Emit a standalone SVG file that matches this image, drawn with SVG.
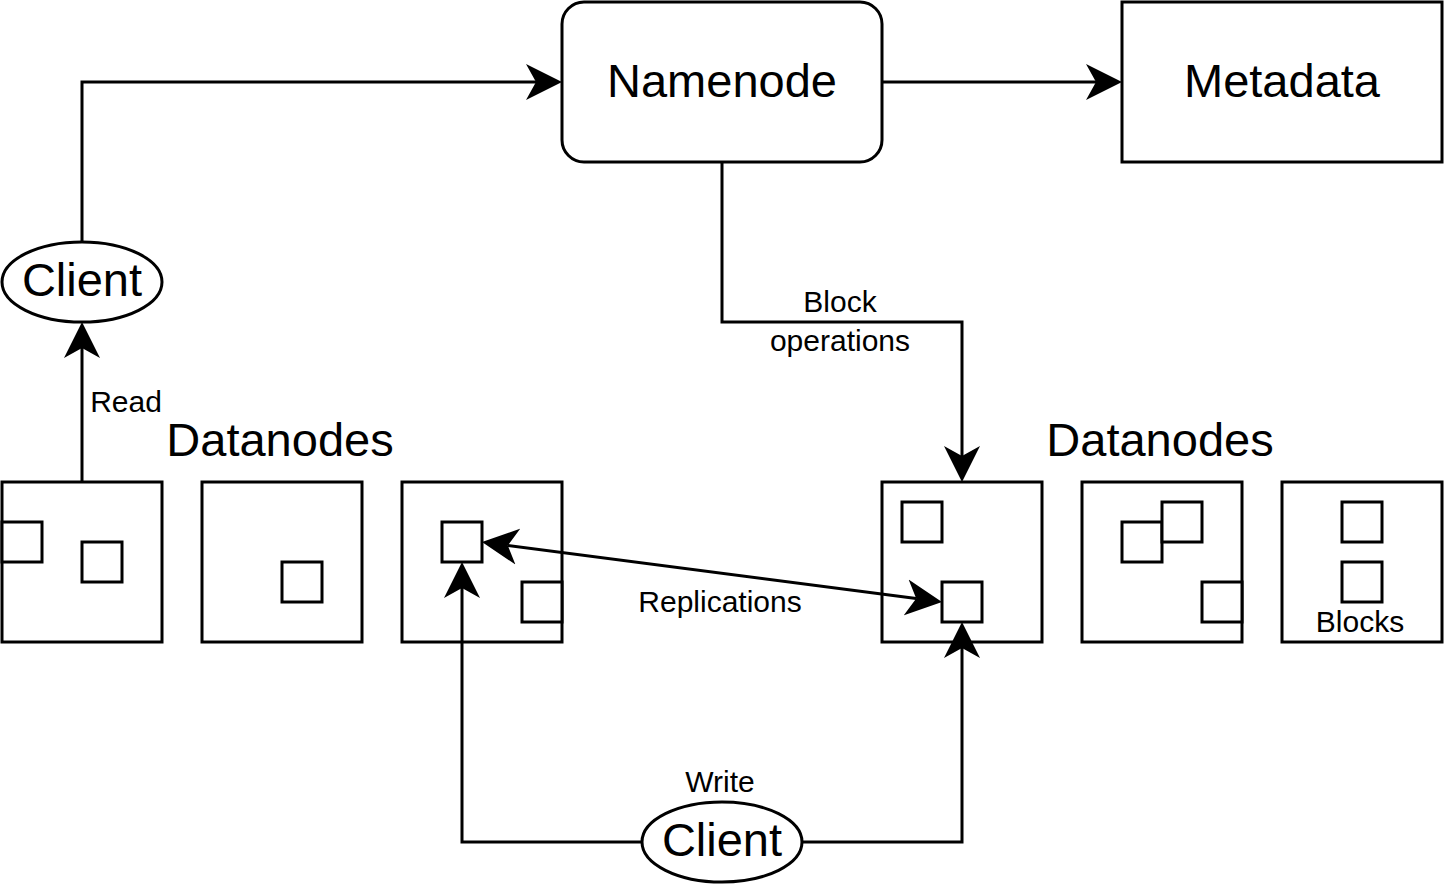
<svg xmlns="http://www.w3.org/2000/svg" width="1444" height="888" viewBox="0 0 1444 888">
<style>
.box{fill:#fff;stroke:#000;stroke-width:3}
.blk{fill:#fff;stroke:#000;stroke-width:3}
.ln{fill:none;stroke:#000;stroke-width:3}
.big{font-family:"Liberation Sans",Arial,sans-serif;font-size:47px;fill:#000;text-anchor:middle}
.lbl{font-family:"Liberation Sans",Arial,sans-serif;font-size:30px;fill:#000;text-anchor:middle}
</style>
<defs>
<marker id="arr" markerUnits="userSpaceOnUse" markerWidth="40" markerHeight="40" viewBox="-10 -20 40 40" refX="0" refY="0" orient="auto-start-reverse">
<path d="M26,0 L-10,-18 L0,0 L-10,18 Z" fill="#000"/>
</marker>
</defs>
<rect width="1444" height="888" fill="#fff"/>
<g id="namenode">
<rect class="box" x="562" y="2" width="320" height="160" rx="22" ry="22"/>
<text class="big" x="722" y="97">Namenode</text>
</g>
<g id="metadata">
<rect class="box" x="1122" y="2" width="320" height="160"/>
<text class="big" x="1282" y="97">Metadata</text>
</g>
<g id="client-read">
<ellipse class="box" cx="82" cy="282" rx="80" ry="40"/>
<text class="big" x="82" y="296">Client</text>
</g>
<g id="client-write">
<ellipse class="box" cx="722" cy="842" rx="80" ry="40"/>
<text class="big" x="722" y="856">Client</text>
</g>
<g id="datanodes-left-label">
<text class="big" x="280" y="456">Datanodes</text>
</g>
<g id="datanodes-right-label">
<text class="big" x="1160" y="456">Datanodes</text>
</g>
<g id="datanode1">
<rect class="box" x="2" y="482" width="160" height="160"/>
<rect class="blk" x="2" y="522" width="40" height="40"/>
<rect class="blk" x="82" y="542" width="40" height="40"/>
</g>
<g id="datanode2">
<rect class="box" x="202" y="482" width="160" height="160"/>
<rect class="blk" x="282" y="562" width="40" height="40"/>
</g>
<g id="datanode3">
<rect class="box" x="402" y="482" width="160" height="160"/>
<rect class="blk" x="442" y="522" width="40" height="40"/>
<rect class="blk" x="522" y="582" width="40" height="40"/>
</g>
<g id="datanode4">
<rect class="box" x="882" y="482" width="160" height="160"/>
<rect class="blk" x="902" y="502" width="40" height="40"/>
<rect class="blk" x="942" y="582" width="40" height="40"/>
</g>
<g id="datanode5">
<rect class="box" x="1082" y="482" width="160" height="160"/>
<rect class="blk" x="1122" y="522" width="40" height="40"/>
<rect class="blk" x="1162" y="502" width="40" height="40"/>
<rect class="blk" x="1202" y="582" width="40" height="40"/>
</g>
<g id="datanode6">
<rect class="box" x="1282" y="482" width="160" height="160"/>
<rect class="blk" x="1342" y="502" width="40" height="40"/>
<rect class="blk" x="1342" y="562" width="40" height="40"/>
<text class="lbl" x="1360" y="632">Blocks</text>
</g>
<g id="connectors">
<path class="ln" d="M82,242 V82 H536" marker-end="url(#arr)"/>
<path class="ln" d="M882,82 H1096" marker-end="url(#arr)"/>
<path class="ln" d="M722,162 V322 H962 V456" marker-end="url(#arr)"/>
<path class="ln" d="M82,482 V348" marker-end="url(#arr)"/>
<path class="ln" d="M507.8,545.4 L916.2,598.6" marker-start="url(#arr)" marker-end="url(#arr)"/>
<path class="ln" d="M642,842 H462 V588" marker-end="url(#arr)"/>
<path class="ln" d="M802,842 H962 V648" marker-end="url(#arr)"/>
<text class="lbl" x="840" y="312">Block</text>
<text class="lbl" x="840" y="351">operations</text>
<text class="lbl" x="126" y="412">Read</text>
<text class="lbl" x="720" y="612">Replications</text>
<text class="lbl" x="720" y="792">Write</text>
</g>
</svg>
